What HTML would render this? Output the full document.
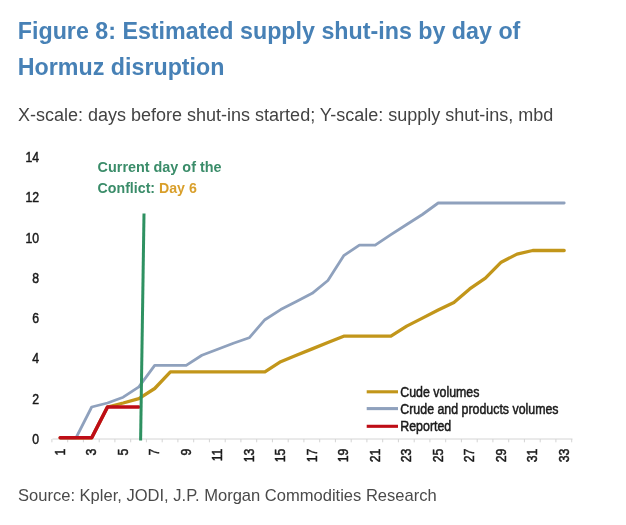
<!DOCTYPE html>
<html><head><meta charset="utf-8"><style>
html,body{margin:0;padding:0;background:#fff;}
body{width:626px;height:525px;overflow:hidden;position:relative;font-family:"Liberation Sans",sans-serif;}
.t{position:absolute;left:17.8px;top:14.4px;font-weight:bold;font-size:23.25px;line-height:35.8px;color:#4781b6;white-space:nowrap;}
.s{position:absolute;left:18px;top:105px;font-size:18px;line-height:21px;color:#434343;white-space:nowrap;}
.src{position:absolute;left:18px;top:486px;font-size:16.55px;line-height:19px;color:#4a4a4a;white-space:nowrap;}
svg{position:absolute;left:0;top:0;}
.t,.s,.src,svg{filter:blur(0.45px);}
svg text{font-family:"Liberation Sans",sans-serif;}
</style></head><body>
<div class="t">Figure 8: Estimated supply shut-ins by day of<br>Hormuz disruption</div>
<div class="s">X-scale: days before shut-ins started; Y-scale: supply shut-ins, mbd</div>
<svg width="626" height="525" viewBox="0 0 626 525">
<g stroke="#d4d4d4" stroke-width="1" fill="none"><line x1="52.5" y1="439" x2="572.5" y2="439"/><line x1="51.9" y1="439" x2="51.9" y2="442.3"/><line x1="67.7" y1="439" x2="67.7" y2="442.3"/><line x1="83.4" y1="439" x2="83.4" y2="442.3"/><line x1="99.2" y1="439" x2="99.2" y2="442.3"/><line x1="114.9" y1="439" x2="114.9" y2="442.3"/><line x1="130.7" y1="439" x2="130.7" y2="442.3"/><line x1="146.4" y1="439" x2="146.4" y2="442.3"/><line x1="162.2" y1="439" x2="162.2" y2="442.3"/><line x1="177.9" y1="439" x2="177.9" y2="442.3"/><line x1="193.7" y1="439" x2="193.7" y2="442.3"/><line x1="209.4" y1="439" x2="209.4" y2="442.3"/><line x1="225.2" y1="439" x2="225.2" y2="442.3"/><line x1="240.9" y1="439" x2="240.9" y2="442.3"/><line x1="256.7" y1="439" x2="256.7" y2="442.3"/><line x1="272.4" y1="439" x2="272.4" y2="442.3"/><line x1="288.2" y1="439" x2="288.2" y2="442.3"/><line x1="303.9" y1="439" x2="303.9" y2="442.3"/><line x1="319.7" y1="439" x2="319.7" y2="442.3"/><line x1="335.4" y1="439" x2="335.4" y2="442.3"/><line x1="351.2" y1="439" x2="351.2" y2="442.3"/><line x1="366.9" y1="439" x2="366.9" y2="442.3"/><line x1="382.7" y1="439" x2="382.7" y2="442.3"/><line x1="398.4" y1="439" x2="398.4" y2="442.3"/><line x1="414.2" y1="439" x2="414.2" y2="442.3"/><line x1="429.9" y1="439" x2="429.9" y2="442.3"/><line x1="445.7" y1="439" x2="445.7" y2="442.3"/><line x1="461.4" y1="439" x2="461.4" y2="442.3"/><line x1="477.2" y1="439" x2="477.2" y2="442.3"/><line x1="492.9" y1="439" x2="492.9" y2="442.3"/><line x1="508.7" y1="439" x2="508.7" y2="442.3"/><line x1="524.4" y1="439" x2="524.4" y2="442.3"/><line x1="540.2" y1="439" x2="540.2" y2="442.3"/><line x1="555.9" y1="439" x2="555.9" y2="442.3"/><line x1="571.7" y1="439" x2="571.7" y2="442.3"/></g>
<g font-size="14.5" fill="#1a1a1a" stroke="#1a1a1a" stroke-width="0.5"><text transform="translate(39,443.7) scale(0.845,1)" text-anchor="end">0</text><text transform="translate(39,403.5) scale(0.845,1)" text-anchor="end">2</text><text transform="translate(39,363.2) scale(0.845,1)" text-anchor="end">4</text><text transform="translate(39,323.0) scale(0.845,1)" text-anchor="end">6</text><text transform="translate(39,282.7) scale(0.845,1)" text-anchor="end">8</text><text transform="translate(39,242.5) scale(0.845,1)" text-anchor="end">10</text><text transform="translate(39,202.3) scale(0.845,1)" text-anchor="end">12</text><text transform="translate(39,162.0) scale(0.845,1)" text-anchor="end">14</text><text transform="translate(64.8,448.6) rotate(-90) scale(0.845,1)" text-anchor="end">1</text><text transform="translate(96.3,448.6) rotate(-90) scale(0.845,1)" text-anchor="end">3</text><text transform="translate(127.8,448.6) rotate(-90) scale(0.845,1)" text-anchor="end">5</text><text transform="translate(159.3,448.6) rotate(-90) scale(0.845,1)" text-anchor="end">7</text><text transform="translate(190.8,448.6) rotate(-90) scale(0.845,1)" text-anchor="end">9</text><text transform="translate(222.3,448.6) rotate(-90) scale(0.845,1)" text-anchor="end">11</text><text transform="translate(253.8,448.6) rotate(-90) scale(0.845,1)" text-anchor="end">13</text><text transform="translate(285.3,448.6) rotate(-90) scale(0.845,1)" text-anchor="end">15</text><text transform="translate(316.8,448.6) rotate(-90) scale(0.845,1)" text-anchor="end">17</text><text transform="translate(348.3,448.6) rotate(-90) scale(0.845,1)" text-anchor="end">19</text><text transform="translate(379.8,448.6) rotate(-90) scale(0.845,1)" text-anchor="end">21</text><text transform="translate(411.3,448.6) rotate(-90) scale(0.845,1)" text-anchor="end">23</text><text transform="translate(442.8,448.6) rotate(-90) scale(0.845,1)" text-anchor="end">25</text><text transform="translate(474.3,448.6) rotate(-90) scale(0.845,1)" text-anchor="end">27</text><text transform="translate(505.8,448.6) rotate(-90) scale(0.845,1)" text-anchor="end">29</text><text transform="translate(537.3,448.6) rotate(-90) scale(0.845,1)" text-anchor="end">31</text><text transform="translate(568.8,448.6) rotate(-90) scale(0.845,1)" text-anchor="end">33</text></g>
<polyline points="60.2,437.8 76.0,437.8 91.7,437.8 107.5,407.0 123.2,403.0 138.9,398.6 154.7,388.5 170.4,371.8 186.2,371.8 201.9,371.8 217.7,371.8 233.4,371.8 249.2,371.8 264.9,371.8 280.7,361.7 296.4,355.3 312.2,348.9 327.9,342.4 343.7,336.2 359.4,336.2 375.2,336.2 390.9,336.2 406.7,326.1 422.4,318.1 438.2,310.0 453.9,302.4 469.7,288.9 485.4,278.2 501.2,262.2 517.0,254.1 532.7,250.5 548.5,250.5 564.2,250.5" fill="none" stroke="#c2961a" stroke-width="3.3" stroke-linejoin="round" stroke-linecap="round"/>
<polyline points="60.2,437.8 76.0,437.8 91.7,407.0 107.5,403.0 123.2,397.2 138.9,386.9 154.7,365.4 170.4,365.4 186.2,365.4 201.9,355.3 217.7,349.3 233.4,343.2 249.2,337.8 264.9,319.7 280.7,309.6 296.4,301.6 312.2,293.3 327.9,280.5 343.7,255.7 359.4,245.1 375.2,245.1 390.9,234.6 406.7,224.5 422.4,214.5 438.2,203.0 453.9,203.0 469.7,203.0 485.4,203.0 501.2,203.0 517.0,203.0 532.7,203.0 548.5,203.0 564.2,203.0" fill="none" stroke="#8fa1bd" stroke-width="2.8" stroke-linejoin="round" stroke-linecap="round"/>
<polyline points="60.2,437.8 76.0,437.8 91.7,437.8 107.5,407.0 123.2,407.0 138.9,407.0" fill="none" stroke="#be0d16" stroke-width="3.6" stroke-linejoin="round" stroke-linecap="round"/>
<line x1="144.0" y1="213.5" x2="140.6" y2="440.5" stroke="#2e9161" stroke-width="3.0"/>
<g stroke-width="3.1" stroke-linecap="butt"><line x1="366.7" y1="391.8" x2="398" y2="391.8" stroke="#c2961a"/><line x1="366.7" y1="408.6" x2="398" y2="408.6" stroke="#8fa1bd"/><line x1="366.7" y1="426.3" x2="398" y2="426.3" stroke="#be0d16"/></g>
<g font-size="14.5" fill="#1a1a1a" stroke="#1a1a1a" stroke-width="0.5"><text transform="translate(400.3,397) scale(0.855,1)">Cude volumes</text><text transform="translate(400.3,413.9) scale(0.855,1)">Crude and products volumes</text><text transform="translate(400.3,430.6) scale(0.855,1)">Reported</text></g>
<g font-size="14.4" font-weight="bold" fill="#3a8c69"><text transform="translate(97.6,172.4) scale(1.0,1)">Current day of the</text><text transform="translate(97.6,192.5) scale(0.985,1)">Conflict: <tspan fill="#d99f2b">Day 6</tspan></text></g>
</svg>
<div class="src">Source: Kpler, JODI, J.P. Morgan Commodities Research</div>
</body></html>
